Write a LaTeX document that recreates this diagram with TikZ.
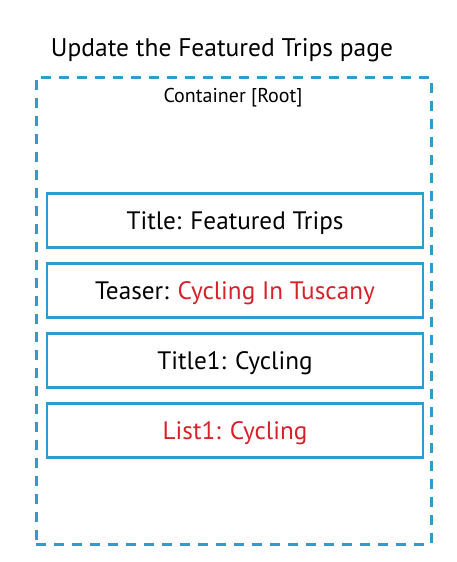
\documentclass[tikz,border=0pt]{standalone}
\usepackage{fontspec}
\setmainfont{PT Sans}
\usetikzlibrary{positioning}
\definecolor{aemblue}{RGB}{46,156,204}
\definecolor{aemred}{RGB}{215,34,42}

\begin{document}
\begin{tikzpicture}[x=1pt, y=-1pt, node distance=13.5pt,
    rootbox/.style={draw=aemblue, dashed, dash pattern=on 10pt off 8pt, line width=3pt},
    compbox/.style={draw=aemblue, line width=2.5pt, minimum width=376pt, minimum height=54pt,
        text height=17.5pt, text depth=0pt, font=\fontsize{25.2}{30}\selectfont}]
    \useasboundingbox (0,0) rectangle (456,562);

    % Heading
    \node[anchor=base, font=\fontsize{25.5}{30}\selectfont] (heading) at (222,56) {Update the Featured Trips page};

    % Container
    \node[rootbox, minimum width=395pt, minimum height=467pt] (root) at (233.5,310.5) {};
    \node[anchor=base, font=\fontsize{20}{24}\selectfont] (rootlabel) at (233,102) {Container [Root]};

    % Components
    \node[compbox] (title) at (235,220.5) {Title: Featured Trips};
    \node[compbox, below=of title] (teaser) {Teaser: \textcolor{aemred}{Cycling In Tuscany}};
    \node[compbox, below=of teaser] (title1) {Title1: Cycling};
    \node[compbox, below=of title1] (list1) {\textcolor{aemred}{List1: Cycling}};
\end{tikzpicture}
\end{document}
